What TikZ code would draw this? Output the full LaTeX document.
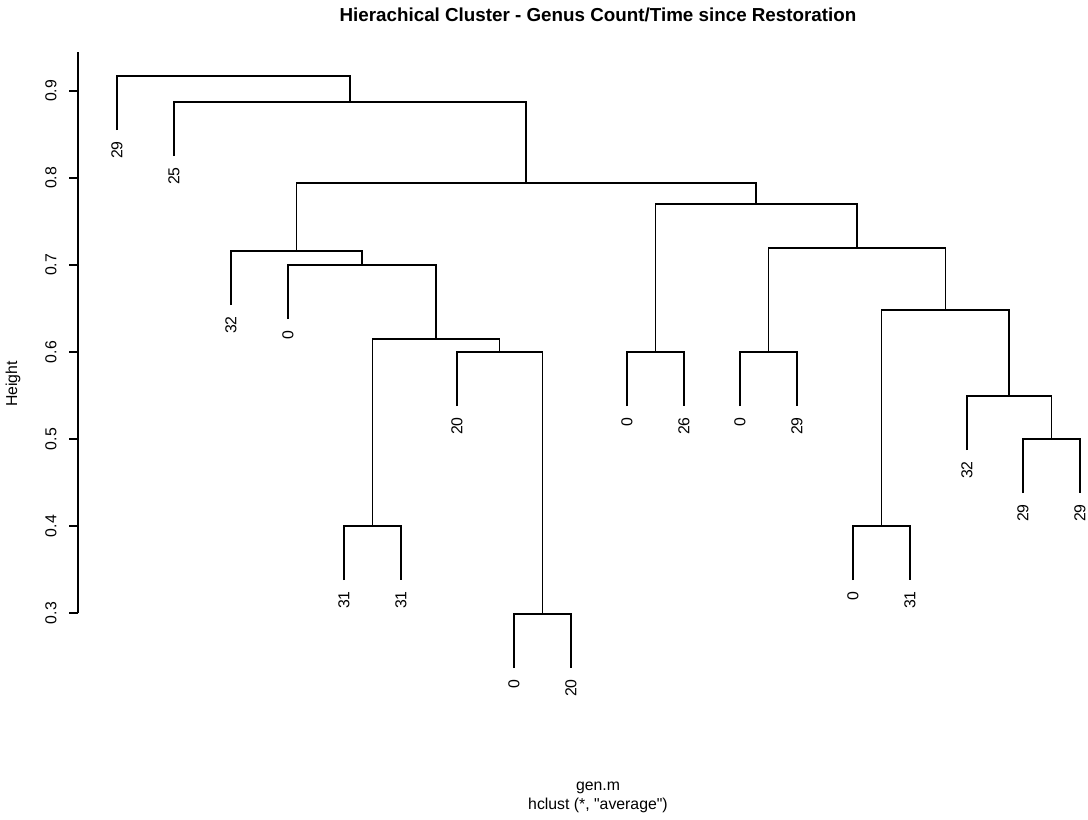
\documentclass[tikz,border=0pt]{standalone}
\usepackage{fontspec}
\setmainfont{Liberation Sans}
\tikzset{
  leaflbl/.style={rotate=90,anchor=east,inner sep=0pt,font=\fontsize{9}{10}\selectfont},
  ticklbl/.style={rotate=90,inner sep=0pt,font=\fontsize{9}{10}\selectfont},
  branch/.style={line width=0.6pt}
}
\begin{document}
\begin{tikzpicture}[x=0.02cm,y=-0.02cm]
\useasboundingbox (0,0) rectangle (1088,819);
% title and axis
\node[font=\fontsize{10.7}{12}\selectfont\bfseries] (title) at (598,15) {Hierachical Cluster - Genus Count/Time since Restoration};
\node[ticklbl] (ylab) at (13,384) {Height};
\node[font=\fontsize{9}{10}\selectfont] (xlab) at (598,788) {gen.m};
\node[font=\fontsize{9}{10}\selectfont] (sub) at (598,805) {hclust (*, \textquotedbl average\textquotedbl)};
\coordinate (atop) at (78,52);
\coordinate (abot) at (78,613);
\draw[branch] (atop) -- (abot);
\foreach \h [count=\k, evaluate=\k as \ty using 91+(\k-1)*87] in {0.9,0.8,0.7,0.6,0.5,0.4,0.3} {
  \coordinate (tk\k) at (78,\ty);
  \draw[branch] (tk\k) -- ++(-9,0);
  \node[ticklbl] (tl\k) at (51,\ty) {\h};
}
% leaves: x / end of line / label
\foreach \x/\e/\t [count=\i] in {117/130/29, 174/156/25, 231/305/32, 288/319/0,
    344/580/31, 401/580/31, 457/406/20, 514/668/0, 571/668/20, 627/406/0,
    684/406/26, 740/406/0, 797/406/29, 853/580/0, 910/580/31, 967/450/32,
    1023/493/29, 1080/493/29} {
  \coordinate (l\i) at (\x,\e);
  \node[leaflbl] (n\i) at (\x,\e+11) {\t};
}
% merges
\coordinate (mA) at (542.5,614);
\coordinate (mB) at (372.5,526);
\coordinate (mC) at (499.5,352);
\coordinate (mD) at (436,339);
\coordinate (mE) at (362,265);
\coordinate (mF) at (296.5,251);
\coordinate (mG) at (655.5,352);
\coordinate (mH) at (768.5,352);
\coordinate (mI) at (881.5,526);
\coordinate (mJ) at (1051.5,439);
\coordinate (mK) at (1009,396);
\coordinate (mL) at (945.5,310);
\coordinate (mM) at (857,248);
\coordinate (mN) at (756,204);
\coordinate (mO) at (526,183);
\coordinate (mP) at (350,102);
\coordinate (mQ) at (233.5,76);
\draw[branch] (l8) |- (mA) -| (l9);
\draw[branch] (l5) |- (mB) -| (l6);
\draw[branch] (l7) |- (mC) -| (mA);
\draw[branch] (mB) |- (mD) -| (mC);
\draw[branch] (l4) |- (mE) -| (mD);
\draw[branch] (l3) |- (mF) -| (mE);
\draw[branch] (l10) |- (mG) -| (l11);
\draw[branch] (l12) |- (mH) -| (l13);
\draw[branch] (l14) |- (mI) -| (l15);
\draw[branch] (l17) |- (mJ) -| (l18);
\draw[branch] (l16) |- (mK) -| (mJ);
\draw[branch] (mI) |- (mL) -| (mK);
\draw[branch] (mH) |- (mM) -| (mL);
\draw[branch] (mG) |- (mN) -| (mM);
\draw[branch] (mF) |- (mO) -| (mN);
\draw[branch] (l2) |- (mP) -| (mO);
\draw[branch] (l1) |- (mQ) -| (mP);
\end{tikzpicture}
\end{document}
